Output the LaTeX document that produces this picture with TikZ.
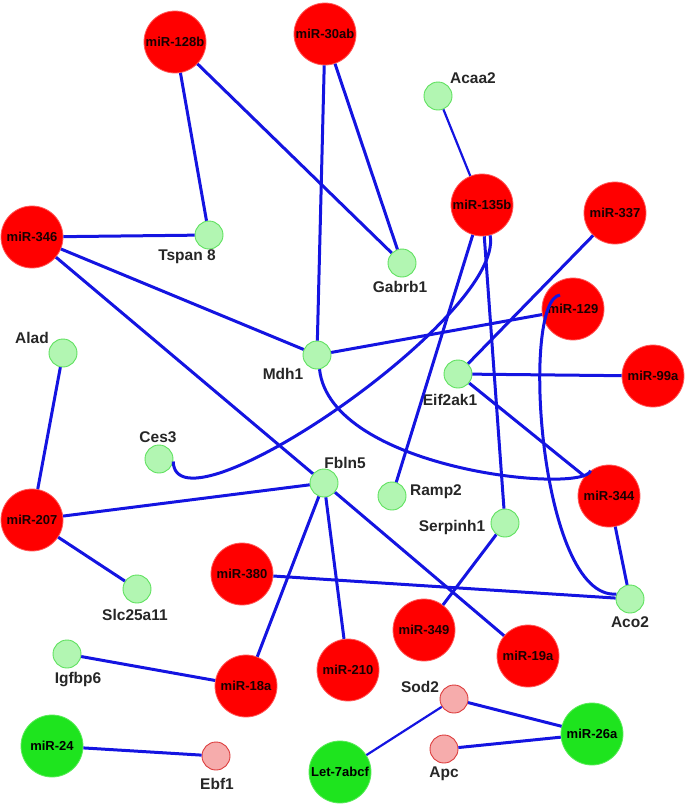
\documentclass[tikz,border=0pt]{standalone}
\usepackage{fontspec}
\setmainfont{Liberation Sans}

\definecolor{edgeblue}{RGB}{20,20,225}
\definecolor{mirred}{RGB}{255,0,0}
\definecolor{mirredline}{RGB}{255,90,90}
\definecolor{mirgreen}{RGB}{30,228,30}
\definecolor{mirgreenline}{RGB}{90,235,90}
\definecolor{genegreen}{RGB}{178,246,178}
\definecolor{genegreenline}{RGB}{95,225,95}
\definecolor{genepink}{RGB}{246,172,172}
\definecolor{genepinkline}{RGB}{220,60,60}

\begin{document}
\begin{tikzpicture}[
    x=1pt, y=-1pt,
    mir/.style={circle, draw=mirredline, line width=0.8pt, fill=mirred, minimum size=62pt, inner sep=0pt,
                font=\fontsize{13}{13}\selectfont\bfseries, text=black!90!red},
    mirup/.style={mir, draw=mirgreenline, fill=mirgreen, text=black},
    gene/.style={circle, draw=genegreenline, line width=0.9pt, fill=genegreen, minimum size=28pt, inner sep=0pt},
    genedown/.style={gene, draw=genepinkline, fill=genepink},
    lbl/.style={font=\fontsize{15.5}{15.5}\selectfont\bfseries, text=black!85, inner sep=0pt},
    link/.style={draw=edgeblue, line width=3pt},
    weak/.style={line width=2.2pt}
]
\useasboundingbox (0,0) rectangle (685,806);

% microRNAs
\node[mir] (m128b) at (175,42) {miR-128b};
\node[mir] (m30ab) at (325,34) {miR-30ab};
\node[mir] (m346) at (32,237) {miR-346};
\node[mir] (m135b) at (482,205) {miR-135b};
\node[mir] (m337) at (615,213) {miR-337};
\node[mir] (m129) at (573,309) {miR-129};
\node[mir] (m99a) at (653,376) {miR-99a};
\node[mir] (m207) at (32,520) {miR-207};
\node[mir] (m344) at (609,496) {miR-344};
\node[mir] (m380) at (242,574) {miR-380};
\node[mir] (m349) at (424,630) {miR-349};
\node[mir] (m19a) at (528,656) {miR-19a};
\node[mir] (m210) at (348,670) {miR-210};
\node[mir] (m18a) at (246,686) {miR-18a};
\node[mirup] (m24) at (52,746) {miR-24};
\node[mirup] (let7) at (340,772) {Let-7abcf};
\node[mirup] (m26a) at (592,734) {miR-26a};

% genes
\node[gene] (tspan) at (209,235) {};
\node[gene] (gabrb1) at (402,263) {};
\node[gene] (acaa2) at (438,96) {};
\node[gene] (mdh1) at (317,355) {};
\node[gene] (alad) at (63,353) {};
\node[gene] (eif2ak1) at (458,374) {};
\node[gene] (ces3) at (159,459) {};
\node[gene] (fbln5) at (324,483) {};
\node[gene] (ramp2) at (392,496) {};
\node[gene] (serpinh1) at (505,523) {};
\node[gene] (aco2) at (630,599) {};
\node[gene] (slc) at (137,589) {};
\node[gene] (igfbp6) at (67,654) {};
\node[genedown] (ebf1) at (216,756) {};
\node[genedown] (sod2) at (454,699) {};
\node[genedown] (apc) at (444,749) {};

% gene names
\node[lbl] (tspan-t) at (187,257) {Tspan 8};
\node[lbl] (gabrb1-t) at (400,287) {Gabrb1};
\node[lbl] (acaa2-t) at (473,78) {Acaa2};
\node[lbl] (mdh1-t) at (283,374) {Mdh1};
\node[lbl] (alad-t) at (32,338) {Alad};
\node[lbl] (eif2ak1-t) at (450,400) {Eif2ak1};
\node[lbl] (ces3-t) at (158,437) {Ces3};
\node[lbl] (fbln5-t) at (345,463) {Fbln5};
\node[lbl] (ramp2-t) at (436,492) {Ramp2};
\node[lbl] (serpinh1-t) at (452,527) {Serpinh1};
\node[lbl] (aco2-t) at (630,622) {Aco2};
\node[lbl] (slc-t) at (135,615) {Slc25a11};
\node[lbl] (igfbp6-t) at (78,680) {Igfbp6};
\node[lbl] (ebf1-t) at (217,784) {Ebf1};
\node[lbl] (sod2-t) at (420,687) {Sod2};
\node[lbl] (apc-t) at (444,774) {Apc};

% interactions
\draw[link] (m128b) -- (tspan);
\draw[link] (m128b) -- (gabrb1);
\draw[link] (m30ab) -- (mdh1);
\draw[link] (m30ab) -- (gabrb1);
\draw[link, weak] (acaa2) -- (m135b);
\draw[link] (m346) -- (tspan);
\draw[link] (m346) -- (mdh1);
\draw[link] (m346) -- (fbln5);
\draw[link] (m135b) -- (ramp2);
\draw[link] (m135b) -- (serpinh1);
\draw[link] (m135b.-75) .. controls +(15,81) and +(2,79) .. (ces3.-10);
\draw[link] (m337) -- (eif2ak1);
\draw[link] (mdh1) -- (m129);
\draw[link] (mdh1.-80) .. controls +(11,101) and +(-6,24) .. (m344.126);
\draw[link] (eif2ak1) -- (m99a);
\draw[link] (eif2ak1) -- (m344);
\draw[link] ([xshift=-13pt,yshift=14pt]m129.center) .. controls +(-40,5) and +(-77,6) .. (aco2.160);
\draw[link] (m344) -- (aco2);
\draw[link] (m207) -- (alad);
\draw[link] (m207) -- (fbln5);
\draw[link] (m207) -- (slc);
\draw[link] (m380) -- (aco2);
\draw[link] (fbln5) -- (m18a);
\draw[link] (fbln5) -- (m210);
\draw[link] (fbln5) -- (m19a);
\draw[link] (serpinh1) -- (m349);
\draw[link] (igfbp6) -- (m18a);
\draw[link] (m24) -- (ebf1);
\draw[link, weak] (sod2) -- (let7);
\draw[link] (sod2) -- (m26a);
\draw[link] (apc) -- (m26a);
\end{tikzpicture}
\end{document}
